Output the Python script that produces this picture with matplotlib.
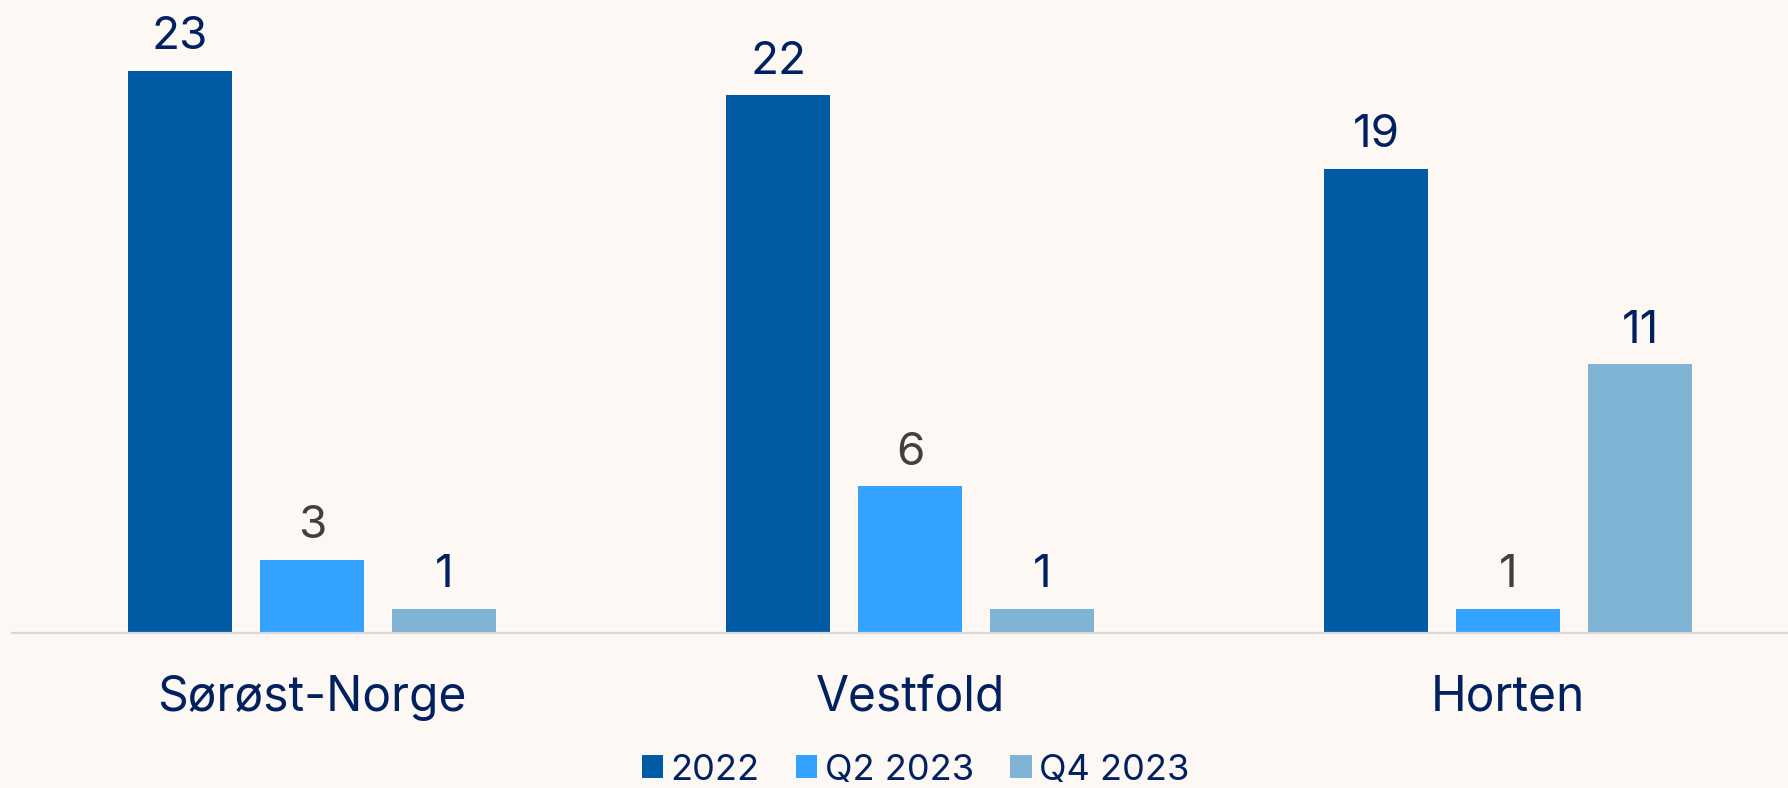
import matplotlib
matplotlib.use("Agg")
import matplotlib.pyplot as plt
import numpy as np

plt.rcParams['font.family'] = ['Inter', 'DejaVu Sans']

# data
regions = ["Sørøst-Norge", "Vestfold", "Horten"]
series = ["2022", "Q2 2023", "Q4 2023"]
v_2022 = [23, 22, 19]
v_q2_2023 = [3, 6, 1]
v_q4_2023 = [1, 1, 11]

colors = ["#005ba4", "#33a3ff", "#80b4d4"]
label_colors = ["#002060", "#404040", "#002060"]
bg = "#fdf8f4"

fig = plt.figure(figsize=(17.88, 7.88), dpi=100, facecolor=bg)
ax = fig.add_axes([12 / 1788, 155 / 788, 1776 / 1788, 633 / 788])
ax.set_facecolor(bg)

x = np.arange(len(regions))
width = 0.174
step = 0.221
for i, (name, vals) in enumerate(zip(series, [v_2022, v_q2_2023, v_q4_2023])):
    bars = ax.bar(x + (i - 1) * step, vals, width, color=colors[i], label=name)
    ax.bar_label(bars, padding=9, fontsize=33, color=label_colors[i])

ax.set_xlim(-0.502, 2.468)
ax.set_ylim(0, 25.9)
ax.set_yticks([])
ax.set_xticks(x)
ax.set_xticklabels(regions, fontsize=34.5, color="#002060")
ax.tick_params(axis="x", length=0, pad=30)
for s in ["top", "left", "right"]:
    ax.spines[s].set_visible(False)
ax.spines["bottom"].set_color("#d9d9d9")
ax.spines["bottom"].set_linewidth(1.6)

fig.legend(loc="center", bbox_to_anchor=(0.512, 1 - 770 / 788), ncol=3,
           frameon=False, fontsize=26, labelcolor="#002060",
           handlelength=0.6, handleheight=0.6, handletextpad=0.2,
           columnspacing=1.0, borderaxespad=0)

fig.savefig("out.png", dpi=100, facecolor=bg)
